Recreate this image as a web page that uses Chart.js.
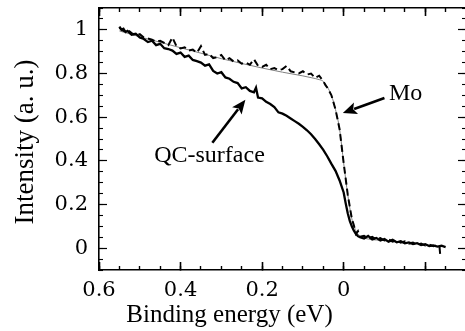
<!DOCTYPE html>
<html><head><meta charset="utf-8">
<script src="https://cdn.jsdelivr.net/npm/chart.js@4.4.1/dist/chart.umd.min.js"></script>
<style>
html,body{margin:0;padding:0;overflow:hidden;background:#fff;}
#wrap{position:relative;width:470px;height:331px;}
</style></head><body>
<div id="wrap"><canvas id="c"></canvas></div>
<script>
// QC-surface spectrum (solid)
const qcX = [0.55,0.545,0.54,0.535,0.53,0.52,0.51,0.50,0.49,0.48,
  0.47,0.46,0.45,0.44,0.43,0.42,0.41,0.40,0.39,0.38,
  0.37,0.36,0.35,0.34,0.33,0.32,0.31,0.30,0.29,0.28,
  0.27,0.26,0.25,0.24,0.23,0.22,0.215,0.21,0.20,0.19,
  0.18,0.17,0.16,0.15,0.14,0.13,0.12,0.11,0.10,0.09,
  0.08,0.07,0.06,0.05,0.04,0.03,0.02,0.01,0.0,-0.005,
  -0.01,-0.015,-0.02,-0.025,-0.03,-0.035,-0.04,-0.05,-0.06,-0.07,
  -0.08,-0.09,-0.10,-0.11,-0.12,-0.13,-0.14,-0.15,-0.16,-0.17,
  -0.18,-0.19,-0.20,-0.21,-0.22,-0.23,-0.24,-0.25];
const qcY = [1.015,1.0,1.005,0.99,0.995,0.978,0.982,0.965,0.958,0.944,
  0.95,0.93,0.936,0.916,0.912,0.905,0.89,0.896,0.876,0.882,
  0.862,0.857,0.85,0.836,0.842,0.812,0.80,0.806,0.782,0.776,
  0.762,0.756,0.732,0.737,0.72,0.714,0.735,0.69,0.686,0.67,
  0.66,0.646,0.622,0.616,0.606,0.594,0.582,0.57,0.556,0.54,
  0.522,0.5,0.476,0.45,0.42,0.386,0.354,0.31,0.255,0.205,
  0.16,0.125,0.1,0.08,0.066,0.055,0.05,0.044,0.056,0.04,
  0.047,0.035,0.042,0.03,0.038,0.027,0.032,0.022,0.026,0.019,
  0.023,0.014,0.018,0.01,0.013,0.007,0.011,0.005];

// Mo spectrum (dashed)
const moX = [0.55,0.54,0.53,0.52,0.51,0.50,0.49,0.48,0.47,0.46,
  0.45,0.44,0.43,0.42,0.41,0.40,0.39,0.38,0.37,0.36,
  0.35,0.34,0.33,0.32,0.31,0.30,0.29,0.28,0.27,0.26,
  0.25,0.24,0.23,0.22,0.21,0.20,0.19,0.18,0.17,0.16,
  0.15,0.14,0.13,0.12,0.11,0.10,0.09,0.08,0.07,0.06,
  0.05,0.045,0.04,0.03,0.02,0.01,0.0,-0.01,-0.02,-0.025,
  -0.03,-0.035,-0.04,-0.05,-0.06,-0.07,-0.08,-0.09,-0.10,-0.11,
  -0.12,-0.13,-0.14,-0.15,-0.16,-0.17,-0.18,-0.19,-0.20,-0.21,
  -0.22,-0.23,-0.235,-0.237];
const moY = [1.01,0.995,1.0,0.985,0.975,0.98,0.965,0.96,0.955,0.945,
  0.95,0.94,0.93,0.965,0.925,0.915,0.92,0.905,0.91,0.895,
  0.925,0.885,0.89,0.87,0.875,0.885,0.86,0.87,0.855,0.86,
  0.845,0.85,0.84,0.865,0.835,0.83,0.84,0.82,0.825,0.815,
  0.82,0.835,0.81,0.805,0.80,0.81,0.795,0.80,0.78,0.79,
  0.765,0.748,0.735,0.70,0.635,0.545,0.39,0.245,0.135,0.105,
  0.065,0.078,0.052,0.057,0.045,0.052,0.04,0.046,0.035,0.041,
  0.03,0.036,0.025,0.031,0.021,0.026,0.016,0.021,0.012,0.016,
  0.009,0.013,0.006,-0.035];

// Fermi-edge fit for Mo (thin grey)
const fitX = [0.55,0.5,0.45,0.4,0.35,0.3,0.25,0.2,0.15,0.1,0.08,0.06,0.05,0.04,0.03,0.02,0.01,0.0,-0.01,-0.02,-0.03,-0.04,-0.06,-0.1];
const fitY = [0.995,0.968,0.943,0.918,0.893,0.868,0.846,0.825,0.806,0.789,0.781,0.772,0.764,0.738,0.70,0.635,0.545,0.39,0.245,0.135,0.08,0.055,0.042,0.035];

const xMajorTicks = [0.6,0.4,0.2,0,-0.2];
const xTickLabels = ['0.6','0.4','0.2','0',''];
const yMajorTicks = [0,0.2,0.4,0.6,0.8,1];
const yTickLabels = ['0','0.2','0.4','0.6','0.8','1'];
const xTitle = 'Binding energy (eV)';
const yTitle = 'Intensity (a. u.)';

const annotations = [
  {text:'QC-surface', tx:0.329, ty:0.393, from:[0.322,0.483], to:[0.241,0.680]},
  {text:'Mo', tx:-0.152, ty:0.680, from:[-0.100,0.688], to:[0.002,0.619]}
];

const pts = (xs, ys) => xs.map((x,i)=>({x:x, y:ys[i]}));
const SERIF = "'Liberation Serif', 'Times New Roman', serif";
const TICKFONT = "'DejaVu Serif', 'Liberation Serif', serif";
Chart.defaults.font.family = SERIF;
Chart.defaults.color = '#000';

const XR = {min:-0.3, max:0.6};
const YR = {min:-0.1, max:1.1};

function zeroPad(s){ s.paddingTop = 0; s.paddingBottom = 0; s.paddingLeft = 0; s.paddingRight = 0; }

function majorX(pos, showLabels){
  return {type:'linear', position:pos, min:XR.min, max:XR.max, reverse:true, weight:1,
    afterBuildTicks: s => { s.ticks = xMajorTicks.map(v=>({value:v})); },
    ticks:{display:showLabels, callback:(v,i)=>xTickLabels[i], font:{family:TICKFONT,size:21}, color:'#000', padding:16, autoSkip:false, maxRotation:0},
    grid:{drawOnChartArea:false, drawTicks:true, tickLength:-8, tickWidth:1.6, tickColor:'#000'},
    border:{display:true, color:'#000', width:1.6},
    afterFit: s => { s.height = showLabels ? 61 : 0; zeroPad(s); }
  };
}
function minorX(pos){
  return {type:'linear', position:pos, min:XR.min, max:XR.max, reverse:true, weight:0,
    ticks:{display:false, stepSize:0.05, autoSkip:false, maxTicksLimit:100},
    grid:{drawOnChartArea:false, drawTicks:true, tickLength:-4, tickWidth:1.4, tickColor:'#000'},
    border:{display:false},
    afterFit: s => { s.height = 0; zeroPad(s); }
  };
}
function majorY(pos, showLabels){
  return {type:'linear', position:pos, min:YR.min, max:YR.max, weight:1,
    afterBuildTicks: s => { s.ticks = yMajorTicks.map(v=>({value:v})); },
    ticks:{display:showLabels, callback:(v,i)=>yTickLabels[i], font:{family:TICKFONT,size:21}, color:'#000', padding:19, autoSkip:false},
    grid:{drawOnChartArea:false, drawTicks:true, tickLength:-8, tickWidth:1.2, tickColor:'#000'},
    border:{display:true, color:'#000', width:1.6},
    afterFit: s => { s.width = showLabels ? 99 : 0; zeroPad(s); }
  };
}
function minorY(pos){
  return {type:'linear', position:pos, min:YR.min, max:YR.max, weight:0,
    ticks:{display:false, stepSize:0.05, autoSkip:false, maxTicksLimit:100},
    grid:{drawOnChartArea:false, drawTicks:true, tickLength:-4, tickWidth:1.1, tickColor:'#000'},
    border:{display:false},
    afterFit: s => { s.width = 0; zeroPad(s); }
  };
}

const annotPlugin = {
  id:'annot',
  afterDatasetsDraw(chart){
    const ctx = chart.ctx, xs = chart.scales.x, ys = chart.scales.y;
    ctx.save();
    ctx.fillStyle = '#000'; ctx.strokeStyle = '#000';
    annotations.forEach(a => {
      const x1 = xs.getPixelForValue(a.from[0]), y1 = ys.getPixelForValue(a.from[1]);
      const x2 = xs.getPixelForValue(a.to[0]), y2 = ys.getPixelForValue(a.to[1]);
      const ang = Math.atan2(y2-y1, x2-x1);
      const hl = 14, hw = 6;
      const bx = x2 - hl*Math.cos(ang), by = y2 - hl*Math.sin(ang);
      ctx.lineWidth = 2.6;
      ctx.beginPath(); ctx.moveTo(x1,y1); ctx.lineTo(bx + 2*Math.cos(ang), by + 2*Math.sin(ang)); ctx.stroke();
      ctx.beginPath();
      ctx.moveTo(x2,y2);
      ctx.lineTo(bx + hw*Math.sin(ang), by - hw*Math.cos(ang));
      ctx.lineTo(x2 - (hl-3)*Math.cos(ang), y2 - (hl-3)*Math.sin(ang));
      ctx.lineTo(bx - hw*Math.sin(ang), by + hw*Math.cos(ang));
      ctx.closePath(); ctx.fill();
      ctx.font = '24px ' + SERIF;
      ctx.textAlign = 'center'; ctx.textBaseline = 'alphabetic';
      ctx.fillText(a.text, xs.getPixelForValue(a.tx), ys.getPixelForValue(a.ty));
    });
    ctx.restore();
  },
  afterDraw(chart){
    const ctx = chart.ctx, ca = chart.chartArea;
    ctx.save();
    ctx.fillStyle = '#000';
    ctx.font = '25px ' + SERIF;
    ctx.textAlign = 'center'; ctx.textBaseline = 'alphabetic';
    ctx.fillText(xTitle, 229.5, 321.5);
    ctx.translate(33, (ca.top + ca.bottom)/2 + 3);
    ctx.rotate(-Math.PI/2);
    ctx.font = '27px ' + SERIF;
    ctx.fillText(yTitle, 0, 0);
    ctx.restore();
  }
};

new Chart(document.getElementById('c'), {
  type:'line',
  data:{datasets:[
    {label:'QC-surface', data:pts(qcX,qcY), borderColor:'#000', borderWidth:2.3, pointRadius:0, tension:0, order:0},
    {label:'Mo', data:pts(moX,moY), borderColor:'#000', borderWidth:2, borderDash:[7,4], pointRadius:0, tension:0, order:1},
    {label:'Mo fit', data:pts(fitX,fitY), borderColor:'#808080', borderWidth:1, pointRadius:0, cubicInterpolationMode:'monotone', order:2}
  ]},
  options:{
    responsive:true, maintainAspectRatio:false, animation:false,
    layout:{padding:{top:8, right:4, left:0, bottom:0}},
    plugins:{legend:{display:false}, tooltip:{enabled:false}},
    scales:{
      x: majorX('bottom', true), xMinor: minorX('bottom'),
      x2: majorX('top', false), x2Minor: minorX('top'),
      y: majorY('left', true), yMinor: minorY('left'),
      y2: majorY('right', false), y2Minor: minorY('right')
    }
  },
  plugins:[annotPlugin]
});
</script>
</body></html>
